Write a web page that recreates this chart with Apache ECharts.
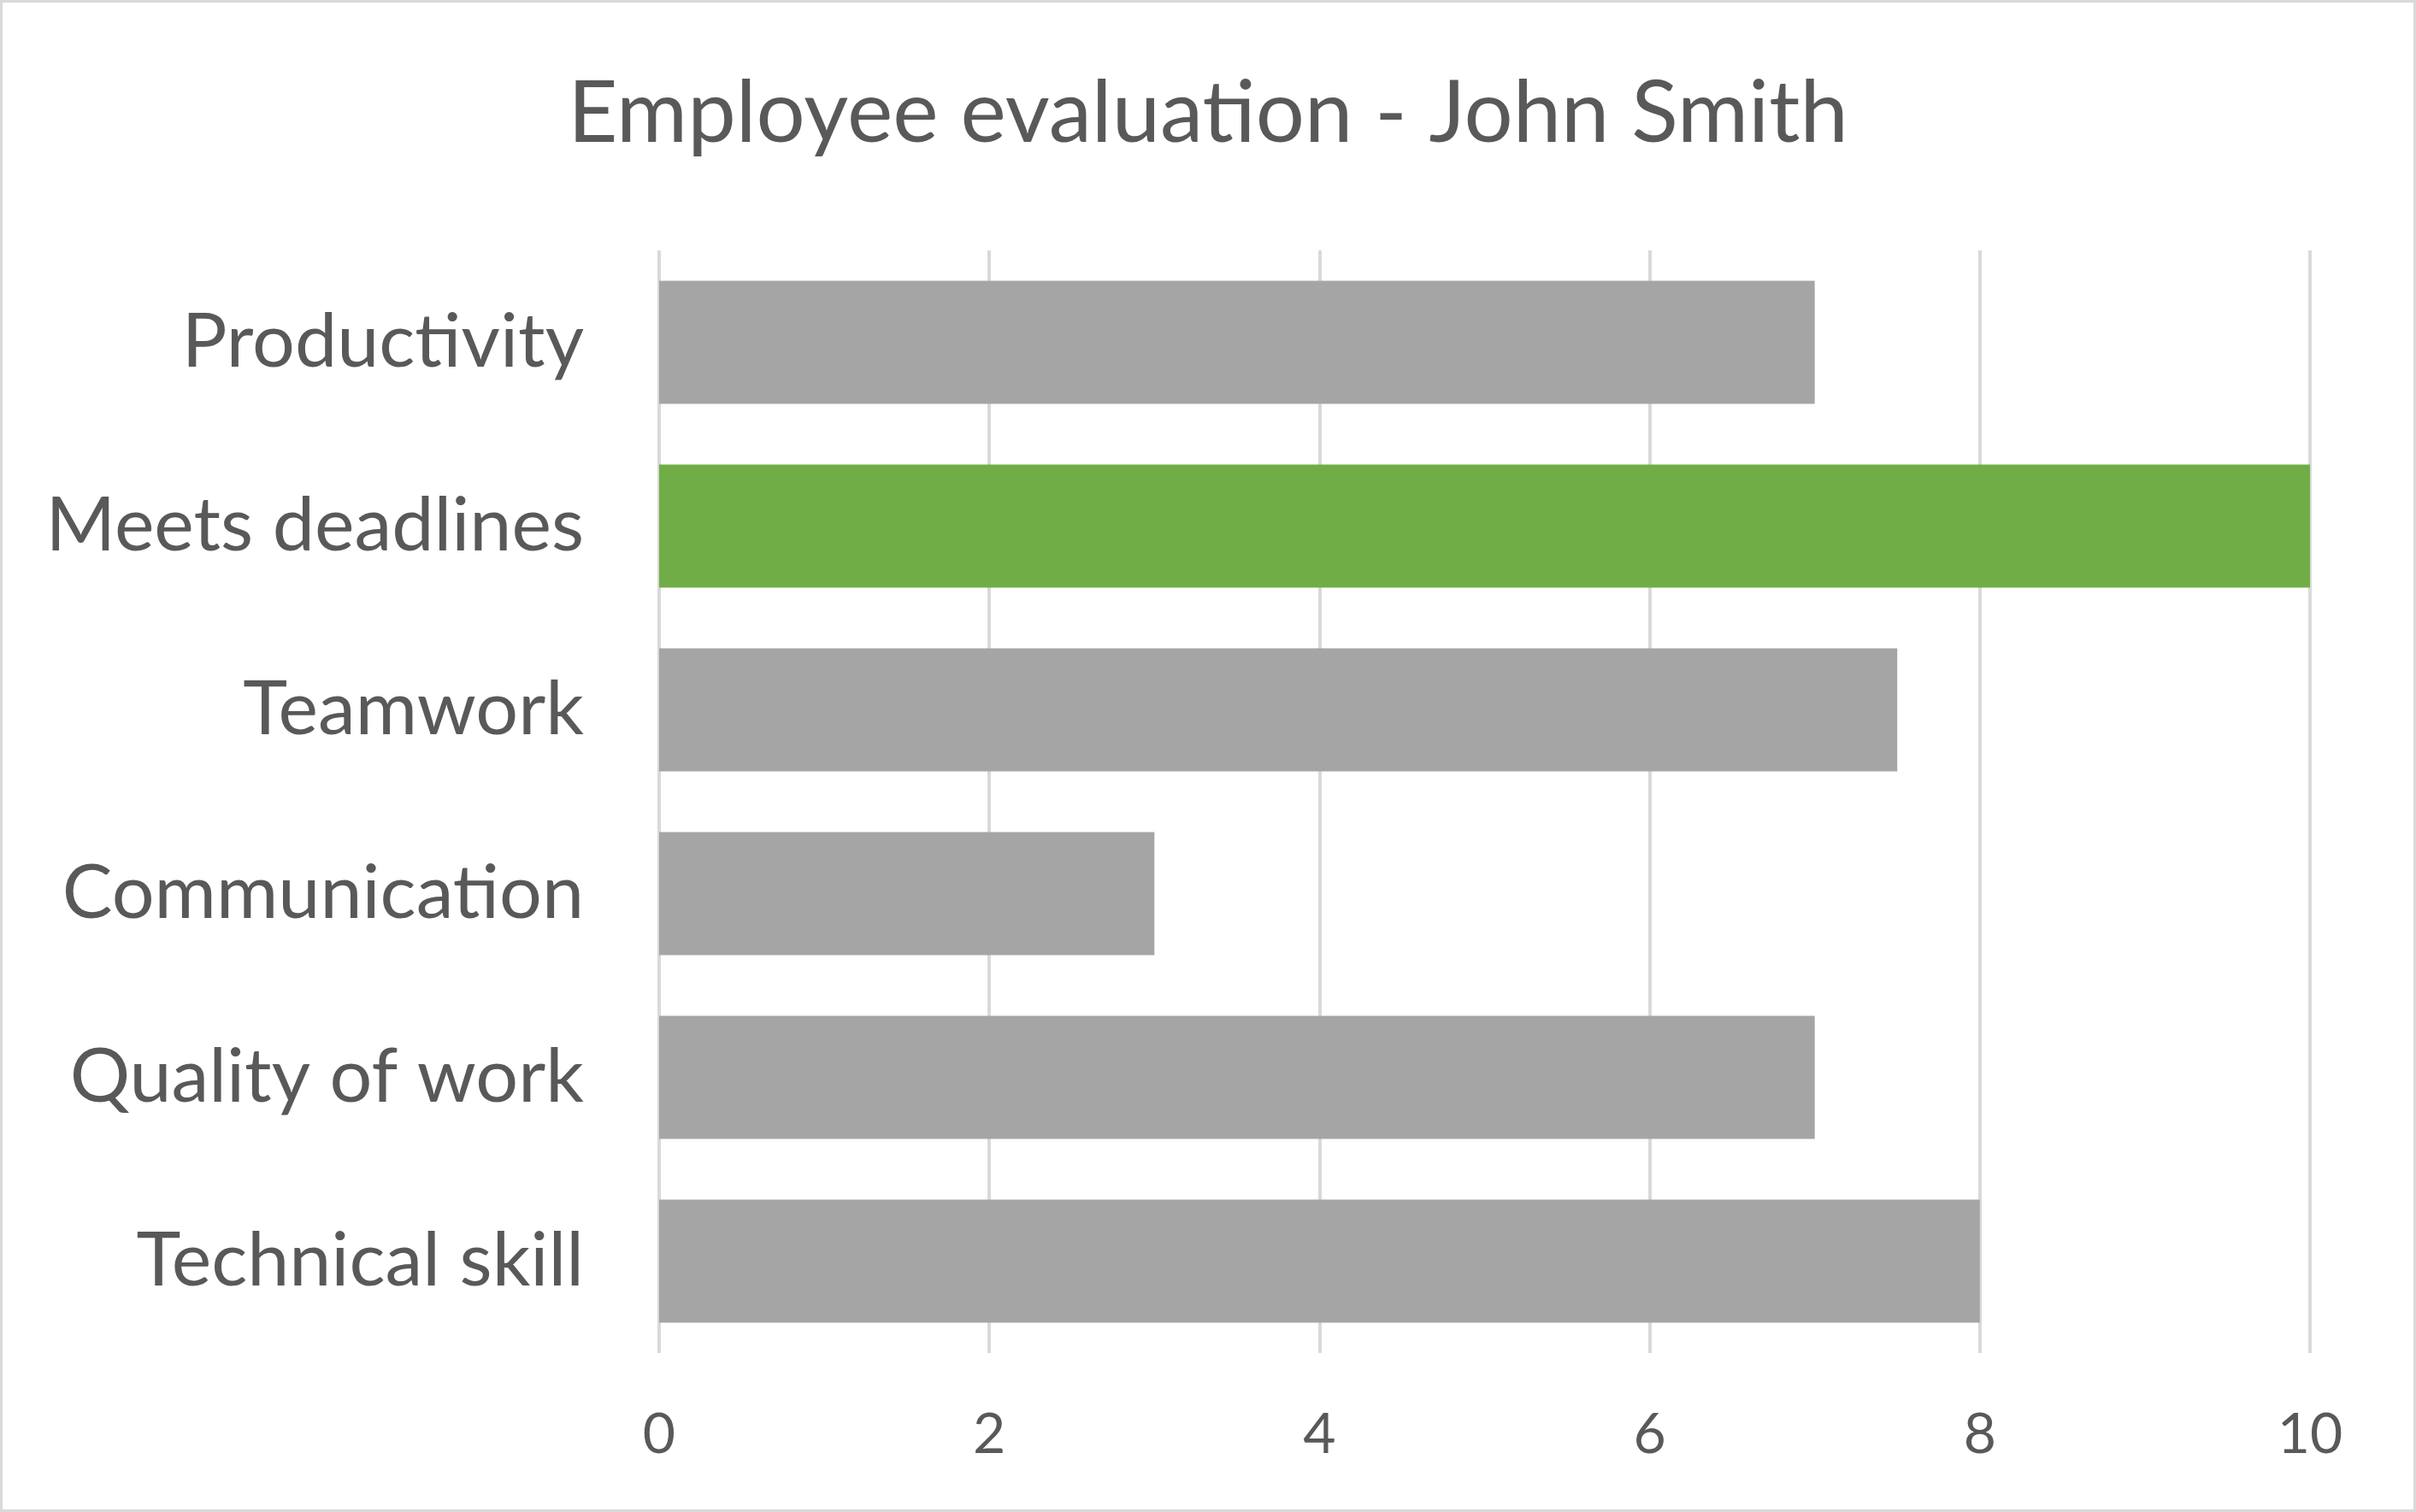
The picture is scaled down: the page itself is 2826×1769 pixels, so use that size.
<!DOCTYPE html>
<html>
<head>
<meta charset="utf-8">
<script src="https://cdn.jsdelivr.net/npm/echarts@6/dist/echarts.min.js"></script>
<style>
html,body{margin:0;padding:0;background:#fff;}
#c{width:2826px;height:1769px;}
</style>
</head>
<body>
<div id="c"></div>
<script>
const categories = ['Productivity', 'Meets deadlines', 'Teamwork', 'Communication', 'Quality of work', 'Technical skill'];
const scores = [7, 10, 7.5, 3, 7, 8];
const highlighted = 'Meets deadlines';
const xTicks = [0, 2, 4, 6, 8, 10];

const chart = echarts.init(document.getElementById('c'), null, {renderer: 'canvas'});
const FONT = 'Lato';
chart.setOption({
  backgroundColor: '#ffffff',
  animation: false,
  title: {
    text: 'Employee evaluation - John Smith',
    left: 'center',
    top: 78,
    textStyle: {fontFamily: FONT, fontSize: 101, fontWeight: 'normal', color: '#595959'}
  },
  graphic: [{
    type: 'rect',
    shape: {x: 1.5, y: 1.5, width: 2823, height: 1766},
    style: {fill: 'none', stroke: '#D9D9D9', lineWidth: 3},
    silent: true
  }],
  grid: {left: 771, right: 124, top: 293, bottom: 186, containLabel: false},
  xAxis: {
    type: 'value',
    min: xTicks[0],
    max: xTicks[xTicks.length - 1],
    interval: xTicks[1] - xTicks[0],
    axisLine: {show: false},
    axisTick: {show: false},
    splitLine: {show: true, lineStyle: {color: '#D9D9D9', width: 4}},
    axisLabel: {fontFamily: FONT, fontSize: 66, color: '#595959', margin: 63}
  },
  yAxis: {
    type: 'category',
    inverse: true,
    data: categories,
    axisLine: {show: false},
    axisTick: {show: false},
    splitLine: {show: false},
    axisLabel: {fontFamily: FONT, fontSize: 88, color: '#595959', margin: 88}
  },
  series: [{
    type: 'bar',
    data: scores,
    barCategoryGap: '33%',
    itemStyle: {
      color: function (p) { return categories[p.dataIndex] === highlighted ? '#70AD47' : '#A5A5A5'; }
    }
  }]
});
</script>
</body>
</html>
